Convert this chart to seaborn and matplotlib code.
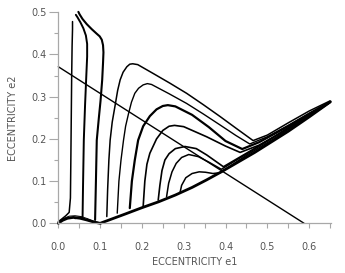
import numpy as np
import pandas as pd
import matplotlib
matplotlib.use("Agg")
import matplotlib.pyplot as plt
import seaborn as sns

# ---- data ----
diag_e1 = [0.0, 0.588]
diag_e2 = [0.371, 0.0]

env_e1 = [0.0, 0.010, 0.022, 0.036, 0.052, 0.068, 0.085, 0.100, 0.130, 0.160, 0.200, 0.240,
          0.280, 0.320, 0.355, 0.390, 0.430, 0.470, 0.510, 0.550, 0.600, 0.651]
env_e2 = [0.0, 0.007, 0.012, 0.014, 0.012, 0.008, 0.003, 0.0, 0.011, 0.022, 0.037, 0.051,
          0.067, 0.085, 0.103, 0.122, 0.145, 0.168, 0.193, 0.218, 0.252, 0.288]

low_e1 = [0.0, 0.012, 0.026, 0.040, 0.055, 0.070, 0.085, 0.100]
low_e2 = [0.002, 0.011, 0.017, 0.018, 0.016, 0.011, 0.005, 0.001]

c1_e1 = [0.000, 0.008, 0.018, 0.026, 0.029, 0.030, 0.031, 0.032, 0.033, 0.034, 0.034]
c1_e2 = [0.004, 0.010, 0.018, 0.026, 0.060, 0.150, 0.250, 0.350, 0.420, 0.460, 0.478]

c2_e1 = [0.040, 0.050, 0.058, 0.059, 0.061, 0.064, 0.067, 0.069, 0.069, 0.066, 0.060, 0.053, 0.046, 0.042]
c2_e2 = [0.012, 0.014, 0.012, 0.080, 0.197, 0.280, 0.350, 0.395, 0.425, 0.445, 0.462, 0.476, 0.488, 0.494]

c3_e1 = [0.088, 0.090, 0.092, 0.097, 0.101, 0.105, 0.107, 0.108, 0.107, 0.104, 0.099, 0.091,
         0.080, 0.068, 0.058, 0.051, 0.048]
c3_e2 = [0.008, 0.100, 0.197, 0.250, 0.290, 0.340, 0.380, 0.405, 0.422, 0.435, 0.443, 0.450,
         0.460, 0.472, 0.484, 0.495, 0.501]

c4_e1 = [0.116, 0.118, 0.121, 0.124, 0.129, 0.136, 0.142, 0.148, 0.155, 0.164, 0.171, 0.178, 0.190,
         0.227, 0.267, 0.307, 0.347, 0.387, 0.427, 0.466, 0.500, 0.550, 0.600, 0.650]
c4_e2 = [0.016, 0.080, 0.150, 0.197, 0.240, 0.280, 0.315, 0.340, 0.358, 0.371, 0.377, 0.378, 0.376,
         0.355, 0.332, 0.308, 0.281, 0.253, 0.224, 0.196, 0.209, 0.238, 0.266, 0.290]

c5_e1 = [0.141, 0.145, 0.150, 0.156, 0.161, 0.168, 0.175, 0.183, 0.192, 0.203, 0.213, 0.223,
         0.265, 0.307, 0.347, 0.387, 0.425, 0.458, 0.500, 0.550, 0.600, 0.648]
c5_e2 = [0.024, 0.100, 0.150, 0.197, 0.230, 0.260, 0.287, 0.308, 0.320, 0.328, 0.331, 0.329,
         0.307, 0.284, 0.259, 0.233, 0.208, 0.188, 0.205, 0.232, 0.261, 0.287]

c6_e1 = [0.171, 0.176, 0.183, 0.191, 0.203, 0.219, 0.235, 0.250, 0.262, 0.280, 0.320, 0.360,
         0.400, 0.440, 0.480, 0.530, 0.580, 0.630, 0.650]
c6_e2 = [0.036, 0.100, 0.150, 0.197, 0.230, 0.254, 0.270, 0.278, 0.280, 0.277, 0.257, 0.228,
         0.195, 0.176, 0.192, 0.219, 0.247, 0.276, 0.287]

c7_e1 = [0.203, 0.207, 0.212, 0.219, 0.235, 0.250, 0.265, 0.278, 0.300, 0.355, 0.400, 0.435,
         0.480, 0.530, 0.580, 0.630, 0.648]
c7_e2 = [0.040, 0.100, 0.140, 0.166, 0.200, 0.220, 0.230, 0.232, 0.229, 0.205, 0.183, 0.168,
         0.185, 0.213, 0.243, 0.273, 0.285]

c8_e1 = [0.239, 0.243, 0.248, 0.255, 0.265, 0.280, 0.303, 0.330, 0.355, 0.395, 0.450, 0.520, 0.600]
c8_e2 = [0.055, 0.090, 0.125, 0.150, 0.165, 0.177, 0.182, 0.177, 0.162, 0.134, 0.166, 0.207, 0.257]

c9_e1 = [0.259, 0.264, 0.272, 0.282, 0.295, 0.312, 0.335, 0.360, 0.390, 0.460, 0.540, 0.620]
c9_e2 = [0.063, 0.095, 0.122, 0.142, 0.156, 0.163, 0.158, 0.145, 0.128, 0.170, 0.220, 0.270]

c10_e1 = [0.291, 0.295, 0.305, 0.320, 0.337, 0.352, 0.370, 0.388, 0.450, 0.520, 0.600, 0.645]
c10_e2 = [0.072, 0.090, 0.108, 0.118, 0.122, 0.121, 0.118, 0.120, 0.161, 0.203, 0.255, 0.284]

curves = [
    ("diag", diag_e1, diag_e2, 1.0),
    ("env", env_e1, env_e2, 2.0),
    ("low", low_e1, low_e2, 0.7),
    ("c1", c1_e1, c1_e2, 1.1),
    ("c2", c2_e1, c2_e2, 1.4),
    ("c3", c3_e1, c3_e2, 1.5),
    ("c4", c4_e1, c4_e2, 1.1),
    ("c5", c5_e1, c5_e2, 1.0),
    ("c6", c6_e1, c6_e2, 1.6),
    ("c7", c7_e1, c7_e2, 1.2),
    ("c8", c8_e1, c8_e2, 1.2),
    ("c9", c9_e1, c9_e2, 1.1),
    ("c10", c10_e1, c10_e2, 1.1),
]

frames = [pd.DataFrame({"traj": n, "e1": x, "e2": y}) for n, x, y, _ in curves]
df = pd.concat(frames, ignore_index=True)

sns.set_style("ticks")
plt.rcParams["font.family"] = ["DejaVu Sans"]

fig = plt.figure(figsize=(3.45, 2.73), dpi=100)
ax = fig.add_axes([0.169, 0.182, 0.790, 0.773])

for name, _, _, lw in curves:
    sub = df[df["traj"] == name]
    sns.lineplot(data=sub, x="e1", y="e2", sort=False, estimator=None,
                 color="black", linewidth=lw, ax=ax, clip_on=False)

ax.set_xlim(0, 0.652)
ax.set_ylim(0, 0.5)

grey = "#a8a8a8"
txt = "#555555"
for s in ["top", "right"]:
    ax.spines[s].set_visible(False)
for s in ["left", "bottom"]:
    ax.spines[s].set_color(grey)
    ax.spines[s].set_linewidth(0.9)

ax.set_xticks([0.0, 0.1, 0.2, 0.3, 0.4, 0.5, 0.6])
ax.set_xticks(np.arange(0.05, 0.66, 0.1), minor=True)
ax.set_yticks([0.0, 0.1, 0.2, 0.3, 0.4, 0.5])
ax.set_yticks([0.05, 0.15, 0.25, 0.35, 0.45], minor=True)
ax.set_xticklabels(["0.0", "0.1", "0.2", "0.3", "0.4", "0.5", "0.6"])
ax.set_yticklabels(["0.0", "0.1", "0.2", "0.3", "0.4", "0.5"])

ax.tick_params(axis="x", which="both", length=3.6, width=0.8, color=grey,
               labelsize=7, labelcolor=txt, pad=9.5)
ax.tick_params(axis="y", which="major", length=6.3, width=0.8, color=grey,
               labelsize=7, labelcolor=txt, pad=2)
ax.tick_params(axis="y", which="minor", length=2.7, width=0.8, color=grey)

ax.set_xlabel("ECCENTRICITY e1", fontsize=7, color=txt, labelpad=4)
ax.set_ylabel("ECCENTRICITY e2", fontsize=7, color=txt, labelpad=10)

fig.savefig("out.png", dpi=100)
